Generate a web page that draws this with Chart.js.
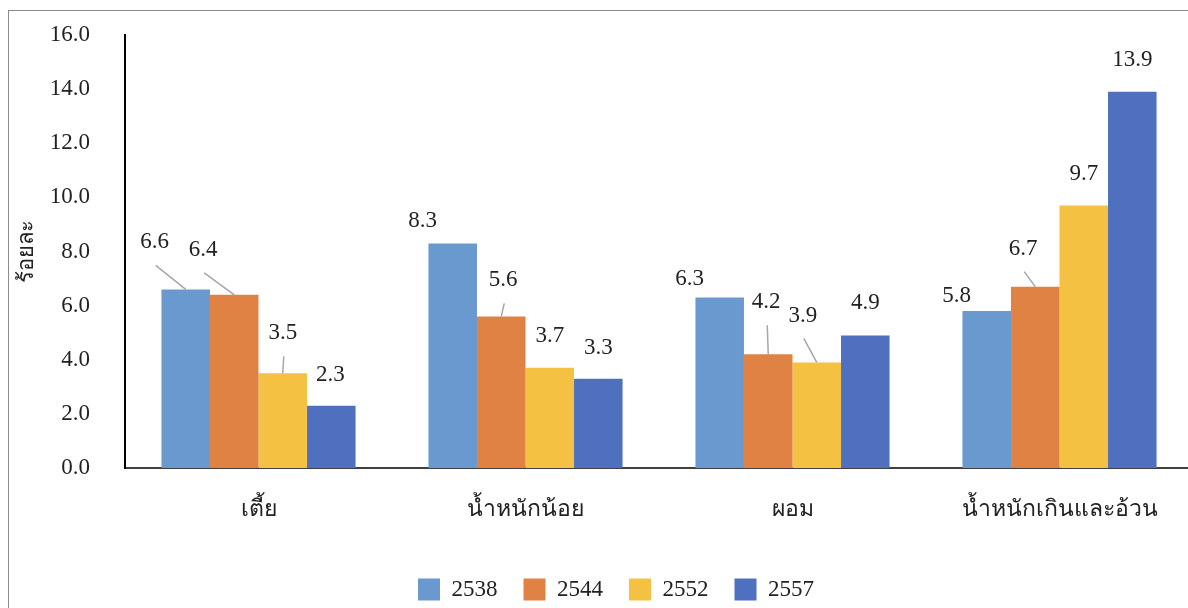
<!DOCTYPE html>
<html>
<head>
<meta charset="utf-8">
<script src="https://cdn.jsdelivr.net/npm/chart.js@4"></script>
<style>
html, body { margin: 0; padding: 0; background: #fff; overflow: hidden; width: 1188px; height: 608px; }
#frame { position: absolute; left: 8px; top: 10px; border: 1px solid #8c8c8c; width: 1230px; height: 620px; }
canvas { display: block; }
</style>
</head>
<body>
<div id="frame"><canvas id="chart" width="1230" height="620" style="width:1230px;height:620px"></canvas></div>
<script>
// Chart data
const categories = ['เตี้ย', 'น้ำหนักน้อย', 'ผอม', 'น้ำหนักเกินและอ้วน'];
const years = ['2538', '2544', '2552', '2557'];
const values2538 = [6.6, 8.3, 6.3, 5.8];
const values2544 = [6.4, 5.6, 4.2, 6.7];
const values2552 = [3.5, 3.7, 3.9, 9.7];
const values2557 = [2.3, 3.3, 4.9, 13.9];
const yMin = 0, yMax = 16, yStep = 2;

const colors = ['#6a99d0', '#df8244', '#f4c142', '#4e70be'];
const serif = "'Liberation Serif', 'Times New Roman', serif";

// label nudges [dx, dy, leader] relative to the bar top, per series / category
const labelNudge = [
    [[-31, -47, 1], [-30, -22, 0], [-30, -19, 0], [-30, -15, 0]],
    [[-31, -45, 1], [2, -36, 1], [-2, -52, 1], [-12, -38, 1]],
    [[0, -40, 1], [0, -32, 0], [-14, -47, 1], [0, -32, 0]],
    [[-1, -31, 0], [0, -31, 0], [0, -32, 0], [0, -32, 0]]
];

// Draw value labels (with leader lines where Excel moved them)
const valueLabels = {
    id: 'valueLabels',
    afterDatasetsDraw(chart) {
        const ctx = chart.ctx;
        ctx.save();
        ctx.font = '23px ' + serif;
        ctx.fillStyle = '#222';
        ctx.textAlign = 'center';
        ctx.textBaseline = 'middle';
        chart.data.datasets.forEach((ds, s) => {
            chart.getDatasetMeta(s).data.forEach((bar, c) => {
                const [dx, dy, leader] = labelNudge[s][c];
                const lx = bar.x + dx, ly = bar.y + dy;
                if (leader) {
                    ctx.strokeStyle = '#a6a6a6';
                    ctx.lineWidth = 1.5;
                    ctx.beginPath();
                    ctx.moveTo(lx + 1, ly + 23);
                    ctx.lineTo(bar.x, bar.y);
                    ctx.stroke();
                }
                ctx.fillText(ds.data[c].toFixed(1), lx, ly);
            });
        });
        ctx.restore();
    }
};

// Center the legend under the full (uncropped) chart
const legendShift = {
    id: 'legendShift',
    afterLayout(chart) {
        const lg = chart.legend;
        const d = 607 - (lg.left + lg.right) / 2;
        lg.left += d;
        lg.right += d;
    }
};

const ctx = document.getElementById('chart').getContext('2d');
new Chart(ctx, {
    type: 'bar',
    data: {
        labels: categories,
        datasets: [values2538, values2544, values2552, values2557].map((vals, i) => ({
            label: years[i],
            data: vals,
            backgroundColor: colors[i],
            borderWidth: 0,
            categoryPercentage: 0.727,
            barPercentage: 1
        }))
    },
    options: {
        responsive: false,
        animation: false,
        layout: { padding: { left: 0, right: 46, top: 24, bottom: 20 } },
        plugins: {
            tooltip: { enabled: false },
            legend: {
                position: 'bottom',
                labels: {
                    boxWidth: 22,
                    boxHeight: 22,
                    padding: 26,
                    color: '#222',
                    font: { family: serif, size: 23 }
                }
            }
        },
        scales: {
            x: {
                grid: { display: false, drawTicks: false },
                border: { display: true, color: '#404040', width: 2 },
                ticks: { color: '#222', padding: 28, font: { family: serif, size: 23 } },
                afterFit(scale) { scale.height = 84; }
            },
            y: {
                min: yMin,
                max: yMax,
                grid: { display: false, drawTicks: false },
                border: { display: true, color: '#000', width: 2 },
                ticks: {
                    stepSize: yStep,
                    color: '#222',
                    padding: 35,
                    font: { family: serif, size: 23 },
                    callback: v => Number(v).toFixed(1)
                },
                title: {
                    display: true,
                    text: 'ร้อยละ',
                    color: '#222',
                    padding: { top: 5 },
                    font: { family: serif, size: 22 }
                },
                afterFit(scale) {
                    scale.width = 116;
                    scale.paddingTop = 0;
                    scale.paddingBottom = 0;
                }
            }
        }
    },
    plugins: [valueLabels, legendShift]
});
</script>
</body>
</html>
